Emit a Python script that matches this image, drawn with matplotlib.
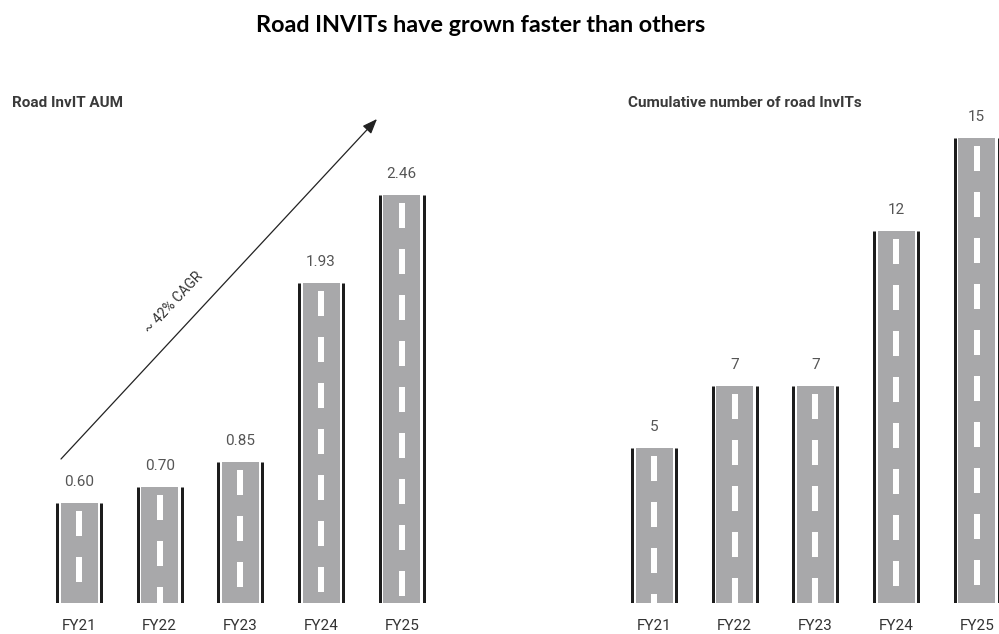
import matplotlib
matplotlib.use("Agg")
import matplotlib.pyplot as plt

plt.rcParams['lines.scale_dashes'] = False

years = ["FY21", "FY22", "FY23", "FY24", "FY25"]
aum = [0.60, 0.70, 0.85, 1.93, 2.46]
aum_labels = ["0.60", "0.70", "0.85", "1.93", "2.46"]
count = [5, 7, 7, 12, 15]
count_labels = ["5", "7", "7", "12", "15"]

title = "Road INVITs have grown faster than others"
left_title = "Road InvIT AUM"
right_title = "Cumulative number of road InvITs"
cagr_text = "~ 42% CAGR"

DPI = 100
W, H = 999, 634
fig = plt.figure(figsize=(W / DPI, H / DPI), dpi=DPI)
fig.patch.set_facecolor("white")

GRAY = "#a8a8aa"
BLACK = "#1c1c1c"
px_per_unit_x = 80.7


def px_to_pt(p):
    return p * 72.0 / DPI


def draw_roads(ax, values, labels, ymax, px_per_unit_y):
    ax.set_xlim(-0.5, 4.5)
    ax.set_ylim(0, ymax)
    ax.axis("off")
    x = list(range(len(values)))
    gray_w = 37 / px_per_unit_x
    side = 22 / px_per_unit_x
    ax.bar(x, values, width=gray_w, color=GRAY, zorder=1)
    for xi, v, lab in zip(x, values, labels):
        ax.vlines([xi - side, xi + side], 0, v, colors=BLACK,
                  linewidth=px_to_pt(3), zorder=2)
        on, off, start = px_to_pt(25), px_to_pt(21), px_to_pt(8)
        ax.plot([xi, xi], [v, 0], color="white", linewidth=px_to_pt(6),
                linestyle=(on + off - start, (on, off)),
                solid_capstyle="butt", dash_capstyle="butt", zorder=3)
        ax.annotate(lab, (xi, v), xytext=(0, px_to_pt(21)),
                    textcoords="offset points", ha="center", va="center",
                    fontsize=11, color="#555555", family="Roboto",
                    annotation_clip=False)
        ax.annotate(years[xi], (xi, 0), xytext=(0, -px_to_pt(23)),
                    textcoords="offset points", ha="center", va="center",
                    fontsize=11, color="#333333", family="Roboto",
                    annotation_clip=False)


bottom = (H - 603) / H
height = 493 / H
width = (5 * px_per_unit_x) / W

axL = fig.add_axes([(79 - px_per_unit_x / 2) / W, bottom, width, height])
draw_roads(axL, aum, aum_labels, 493 / 166.0, 166.0)

axR = fig.add_axes([(654 - px_per_unit_x / 2) / W, bottom, width, height])
draw_roads(axR, count, count_labels, 493 / 31.0, 31.0)

# CAGR arrow (in left axes data coords)
x0, y0 = (61 - 79) / px_per_unit_x, (603 - 459) / 166.0
x1, y1 = (377 - 79) / px_per_unit_x, (603 - 119) / 166.0
axL.annotate("", xy=(x1, y1), xytext=(x0, y0),
             arrowprops=dict(arrowstyle="-|>,head_length=0.9,head_width=0.35",
                             color="#222222", lw=0.9, shrinkA=0, shrinkB=0),
             annotation_clip=False)
axL.annotate(cagr_text, ((174 - 79) / px_per_unit_x, (603 - 303) / 166.0),
             ha="center", va="center", rotation=47, fontsize=10,
             color="#333333", family="Roboto", rotation_mode="anchor",
             annotation_clip=False)

fig.text(481 / W, 1 - 26 / H, title, ha="center", va="center",
         fontsize=16.8, fontweight="bold", family="Lato", color="black")
fig.text(12 / W, 1 - 103 / H, left_title, ha="left", va="center",
         fontsize=11, fontweight="bold", family="Roboto", color="#3a3a3a")
fig.text(628 / W, 1 - 103 / H, right_title, ha="left", va="center",
         fontsize=11, fontweight="bold", family="Roboto", color="#3a3a3a")

fig.savefig("out.png", dpi=DPI, facecolor="white")
